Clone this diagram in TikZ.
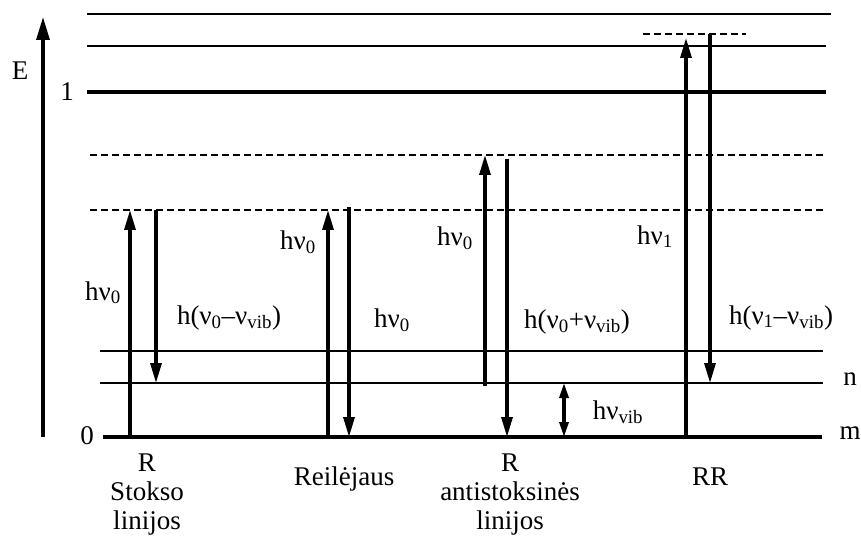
\documentclass[tikz,border=0pt]{standalone}
\usepackage{fontspec}
\setmainfont{Liberation Serif}
\usetikzlibrary{arrows.meta}
\newcommand\hnu[1]{hν\textsubscript{#1}}
\newcommand\vib{\textsubscript{vib}}

\begin{document}
\begin{tikzpicture}[x=1pt,y=-1pt,
	lvl/.style={line width=1.8pt},
	virt/.style={line width=1.8pt,dash pattern=on 7pt off 4pt},
	trans/.style={line width=3.2pt,-{Triangle[length=20pt,width=11pt]}},
	lbl/.style={font=\fontsize{27}{29}\selectfont,inner sep=0pt,anchor=base,align=center}]
	%%%%% START %%%%%
	\useasboundingbox (0,0) rectangle (861,537);
	
	% energy axis
	\coordinate (e0) at (43,437);
	\coordinate (e1) at (43,17);
	\draw[line width=3.2pt,-{Triangle[length=23pt,width=13pt]}] (e0) -- (e1);
	\node[lbl] (elab) at (20,80) {E};
	\node[lbl] (one) at (67,101) {1};
	\node[lbl] (zero) at (87,444) {0};
	
	% levels
	\draw[lvl] (87,14) -- (831,14);
	\draw[lvl, line width=2.3pt] (87,46) -- (826,46);
	\draw[lvl, line width=3.2pt] (87,92) -- (826,92);
	\draw[virt] (90,155) -- (826,155);
	\draw[virt] (90,210) -- (826,210);
	\draw[virt] (643,34) -- (746,34);
	\draw[lvl] (100,351) -- (823,351);
	\draw[lvl] (100,383) -- (823,383);
	\draw[lvl, line width=3.2pt] (103,437) -- (822,437);
	\node[lbl] (nlab) at (850,385) {n};
	\node[lbl] (mlab) at (850,439) {m};
	
	% R Stokso
	\coordinate (s1) at (130,437);
	\coordinate (s2) at (130,210);
	\coordinate (s3) at (156,210);
	\coordinate (s4) at (156,383);
	\draw[trans] (s1) -- (s2);
	\draw[trans] (s3) -- (s4);
	\node[lbl] (sup) at (103,300) {\hnu{0}};
	\node[lbl] (sdown) at (229,324) {h(ν\textsubscript{0}–ν\vib)};
	\node[lbl,anchor=north] (sname) at (147,454) {R\\Stokso\\linijos};
	
	% Reilejaus
	\coordinate (r1) at (328,437);
	\coordinate (r2) at (328,210);
	\coordinate (r3) at (349,207);
	\coordinate (r4) at (349,437);
	\draw[trans] (r1) -- (r2);
	\draw[trans] (r3) -- (r4);
	\node[lbl] (rup) at (298,250) {\hnu{0}};
	\node[lbl] (rdown) at (392,327) {\hnu{0}};
	\node[lbl] (rname) at (344,485) {Reilėjaus};
	
	% R antistoksines
	\coordinate (a1) at (485,386);
	\coordinate (a2) at (485,155);
	\coordinate (a3) at (507,159);
	\coordinate (a4) at (507,437);
	\draw[trans] (a1) -- (a2);
	\draw[trans] (a3) -- (a4);
	\node[lbl] (aup) at (455,246) {\hnu{0}};
	\node[lbl] (adown) at (577,328) {h(ν\textsubscript{0}+ν\vib)};
	\node[lbl,anchor=north] (aname) at (510,454) {R\\antistoksinės\\linijos};
	
	% vib
	\coordinate (v1) at (564,383);
	\coordinate (v2) at (564,437);
	\draw[line width=3.2pt,{Triangle[length=15pt,width=9pt]}-{Triangle[length=15pt,width=9pt]}] (v1) -- (v2);
	\node[lbl] (vlab) at (618,419) {hν\vib};
	
	% RR
	\coordinate (q1) at (686,437);
	\coordinate (q2) at (686,38);
	\coordinate (q3) at (710,34);
	\coordinate (q4) at (710,383);
	\draw[trans] (q1) -- (q2);
	\draw[trans] (q3) -- (q4);
	\node[lbl] (qup) at (655,244) {\hnu{1}};
	\node[lbl] (qdown) at (781,324) {h(ν\textsubscript{1}–ν\vib)};
	\node[lbl] (qname) at (710,485) {RR};
	
	%%%%% END %%%%%
\end{tikzpicture}
\end{document}
